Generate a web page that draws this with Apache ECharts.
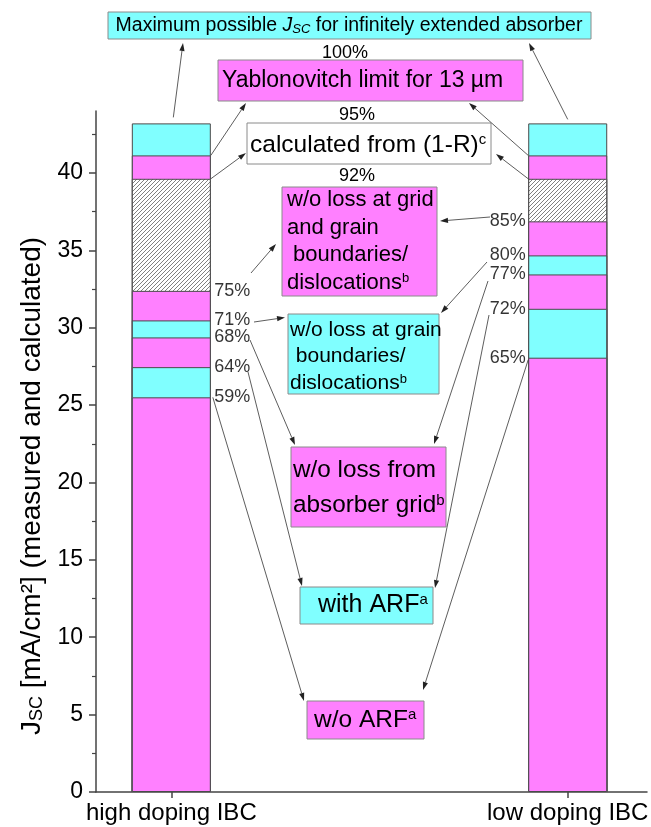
<!DOCTYPE html>
<html><head><meta charset="utf-8">
<script src="https://cdn.jsdelivr.net/npm/echarts@6/dist/echarts.min.js"></script>
<style>html,body{margin:0;padding:0;background:#fff}#c{width:651px;height:827px}</style>
</head><body><div id="c"></div>
<script>
// ---------------- data ----------------
const categories = ['high doping IBC', 'low doping IBC'];
const categoryPositions = [1, 2];
const stageNames = ['w/o ARF', 'with ARF', 'w/o loss from absorber grid',
  'w/o loss at grain boundaries/dislocations', 'w/o loss at grid and grain boundaries/dislocations',
  'calculated from (1-R)', 'Yablonovitch limit for 13 µm', 'Maximum possible J_SC'];
// cumulative J_SC (mA/cm²) reached at each stage
const highDopingLevels = [25.5, 27.45, 29.37, 30.47, 32.38, 39.62, 41.13, 43.2];
const lowDopingLevels = [28.06, 31.22, 33.44, 34.67, 36.87, 39.62, 41.13, 43.2];
const highDopingPercentLabels = ['59%', '64%', '68%', '71%', '75%'];
const lowDopingPercentLabels = ['65%', '72%', '77%', '80%', '85%'];
const topPercentLabels = ['100%', '95%', '92%'];
const yTickLabels = [0, 5, 10, 15, 20, 25, 30, 35, 40];
const yMinorTicks = [2.5, 7.5, 12.5, 17.5, 22.5, 27.5, 32.5, 37.5, 42.5];

// ---------------- style ----------------
const FONT = 'Liberation Sans, Arial, Helvetica, sans-serif';
const PINK = '#FF80FF', CYAN = '#80FFFF', EDGE = '#4a4a4a', AX = '#444';
const BAR_W = 79;

function hatchPattern() {
  const s = 4;
  const c = document.createElement('canvas'); c.width = s; c.height = s;
  const g = c.getContext('2d');
  g.fillStyle = '#ffffff'; g.fillRect(0, 0, s, s);
  g.strokeStyle = '#555555'; g.lineWidth = 0.75;
  g.beginPath();
  g.moveTo(-1, s + 1); g.lineTo(s + 1, -1);
  g.moveTo(-1, 1); g.lineTo(1, -1);
  g.moveTo(s - 1, s + 1); g.lineTo(s + 1, s - 1);
  g.stroke();
  return { image: c, repeat: 'repeat' };
}
const stageFills = [PINK, CYAN, PINK, CYAN, PINK, hatchPattern(), PINK, CYAN];

// each stage is drawn as a bar from 0 up to its cumulative level; the
// higher stages go underneath so that the visible part is the increment
const series = [];
for (let i = stageNames.length - 1; i >= 0; i--) {
  series.push({
    type: 'bar', name: stageNames[i], barWidth: BAR_W, barGap: '-100%', silent: true,
    itemStyle: { color: stageFills[i], borderColor: EDGE, borderWidth: 1 },
    data: [[categoryPositions[0], highDopingLevels[i]], [categoryPositions[1], lowDopingLevels[i]]]
  });
}
series.push({
  type: 'scatter', symbolSize: 0, silent: true, z: 5,
  data: highDopingPercentLabels.map((t, i) => [categoryPositions[0], highDopingLevels[i]]),
  label: { show: true, position: 'right', distance: 43, fontSize: 18, fontFamily: FONT, color: '#000',
    formatter: p => highDopingPercentLabels[p.dataIndex] }
});
series.push({
  type: 'scatter', symbolSize: 0, silent: true, z: 5,
  data: lowDopingPercentLabels.map((t, i) => [categoryPositions[1], lowDopingLevels[i]]),
  label: { show: true, position: 'left', distance: 42, fontSize: 18, fontFamily: FONT, color: '#000',
    formatter: p => lowDopingPercentLabels[p.dataIndex] }
});

const chart = echarts.init(document.getElementById('c'), null, { renderer: 'canvas' });
chart.setOption({
  animation: false,
  backgroundColor: '#fff',
  textStyle: { fontFamily: FONT },
  grid: { left: 96, right: 4, top: 111, bottom: 35, containLabel: false, outerBoundsMode: 'none' },
  xAxis: {
    type: 'value', min: 0.81, max: 2.2,
    axisLine: { show: true, lineStyle: { color: AX, width: 1.5 } },
    axisTick: { show: true, customValues: categoryPositions, length: 6, lineStyle: { color: AX, width: 1.5 } },
    axisLabel: { customValues: categoryPositions, formatter: v => categories[Math.round(v) - 1],
      fontSize: 24, color: '#000', fontFamily: FONT, margin: 9 },
    splitLine: { show: false }
  },
  yAxis: [{
    type: 'value', min: 0, max: 44, position: 'left',
    axisLine: { show: true, lineStyle: { color: AX, width: 1.5 } },
    axisTick: { show: true, customValues: yTickLabels, length: 7, lineStyle: { color: AX, width: 1.5 } },
    axisLabel: { customValues: yTickLabels, fontSize: 23, color: '#000', fontFamily: FONT, margin: 13 },
    splitLine: { show: false },
    name: '{a|J}{s|SC}{a| [mA/cm²] (measured and calculated)}',
    nameLocation: 'middle', nameGap: 50, nameRotate: 90,
    nameTextStyle: { fontSize: 28, color: '#000', fontFamily: FONT, padding: [0, 69, 0, 0],
      rich: { a: { fontSize: 28, color: '#000', fontFamily: FONT },
              s: { fontSize: 18, color: '#000', fontFamily: FONT, verticalAlign: 'bottom' } } }
  }, {
    type: 'value', min: 0, max: 44, position: 'left', offset: 0,
    axisLine: { show: false },
    axisTick: { show: true, customValues: yMinorTicks, length: 4, lineStyle: { color: AX, width: 1.2 } },
    axisLabel: { show: false }, splitLine: { show: false }
  }],
  series
});

// ---------------- annotations ----------------
const px = (x, y) => chart.convertToPixel({ xAxisIndex: 0, yAxisIndex: 0 }, [x, y]);
const HALF = BAR_W / 2;
const G = [];
function arrow(x1, y1, x2, y2) {
  const dx = x2 - x1, dy = y2 - y1, L = Math.hypot(dx, dy), ux = dx / L, uy = dy / L;
  const hl = 8, hw = 2.6;
  const bx = x2 - ux * hl, by = y2 - uy * hl;
  G.push({ type: 'line', silent: true, z: 10, shape: { x1, y1, x2: bx, y2: by }, style: { stroke: '#333', lineWidth: 0.8 } });
  G.push({ type: 'polygon', silent: true, z: 10,
    shape: { points: [[x2, y2], [bx - uy * hw, by + ux * hw], [bx + uy * hw, by - ux * hw]] },
    style: { fill: '#222' } });
}
function box(x, y, w, h, fill) {
  G.push({ type: 'rect', silent: true, z: 8, shape: { x, y, width: w, height: h }, style: { fill, stroke: '#8a8a8a', lineWidth: 1 } });
}
function txt(x, y, text, size, align) {
  G.push({ type: 'text', silent: true, z: 9, x, y, style: {
    text, fill: '#000', fontSize: size, fontFamily: FONT, align: align || 'left', verticalAlign: 'middle',
    rich: {
      n: { fontSize: size, fontFamily: FONT, fill: '#000' },
      i: { fontSize: size, fontFamily: FONT, fill: '#000', fontStyle: 'italic' },
      sub: { fontSize: Math.round(size * 0.68), fontFamily: FONT, fill: '#000', fontStyle: 'italic', verticalAlign: 'bottom' },
      sup: { fontSize: Math.round(size * 0.6), fontFamily: FONT, fill: '#000', verticalAlign: 'top' }
    } } });
}

// boxes and texts
box(108, 12, 483, 27, CYAN);
txt(349, 25.5, '{n|Maximum possible }{i|J}{sub|SC}{n| for infinitely extended absorber}', 19.5, 'center');
txt(345, 53, topPercentLabels[0], 18, 'center');
box(218, 60, 305, 41, PINK);
txt(222, 80.5, '{n|Yablonovitch limit for 13 µm}', 23, 'left');
txt(357, 115, topPercentLabels[1], 18, 'center');
box(247, 123, 244, 41, '#fff');
txt(250, 145, '{n|calculated from (1-R)}{sup|c}', 24.5, 'left');
txt(357, 176, topPercentLabels[2], 18, 'center');

box(282, 187, 155, 109, PINK);
['{n|w/o loss at grid}', '{n|and grain}', '{n| boundaries/}', '{n|dislocations}{sup|b}']
  .forEach((t, k) => txt(287, 200 + k * 27.5, t, 22, 'left'));
box(288, 314, 151, 80, CYAN);
['{n|w/o loss at grain}', '{n| boundaries/}', '{n|dislocations}{sup|b}']
  .forEach((t, k) => txt(290, 330 + k * 26.7, t, 21, 'left'));
box(291, 447, 155, 80, PINK);
['{n|w/o loss from}', '{n|absorber grid}{sup|b}']
  .forEach((t, k) => txt(293, 470 + k * 35, t, 24.3, 'left'));
box(300, 587, 133, 37, CYAN);
txt(318, 605, '{n|with ARF}{sup|a}', 25, 'left');
box(307, 701, 117, 38, PINK);
txt(314, 720, '{n|w/o ARF}{sup|a}', 24.5, 'left');

// arrows anchored at bar boundaries
const last = highDopingLevels.length - 1;
let p;
p = px(categoryPositions[0], highDopingLevels[last]); arrow(p[0] + 2, p[1] - 6, 183, 43);
p = px(categoryPositions[1], lowDopingLevels[last]); arrow(p[0], p[1] - 4, 529, 43);
p = px(categoryPositions[0], highDopingLevels[6]); arrow(p[0] + HALF, p[1], 246, 103);
p = px(categoryPositions[0], highDopingLevels[5]); arrow(p[0] + HALF, p[1], 246, 153);
p = px(categoryPositions[1], lowDopingLevels[6]); arrow(p[0] - HALF, p[1], 469, 103);
p = px(categoryPositions[1], lowDopingLevels[5]); arrow(p[0] - HALF, p[1], 496, 154);
p = px(categoryPositions[0], highDopingLevels[0]); arrow(p[0] + HALF + 2, p[1], 304, 701);
p = px(categoryPositions[1], lowDopingLevels[0]); arrow(p[0] - HALF, p[1] + 2, 423, 690);
// arrows from percent labels
arrow(490, 217, 440, 221);
arrow(251, 273, 276, 244);
arrow(254, 322, 285, 317.5);
arrow(487, 262, 441, 313);
arrow(250, 340, 295, 445);
arrow(488, 281, 434, 444);
arrow(248, 372, 302, 586);
arrow(489, 315, 435, 588);

chart.setOption({ graphic: { elements: G } });
</script>
</body></html>
